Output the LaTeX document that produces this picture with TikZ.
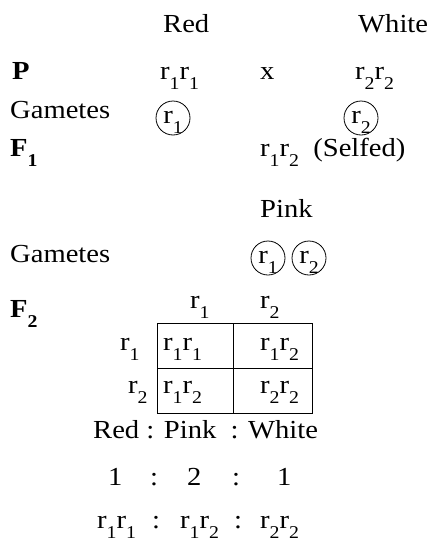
\documentclass[tikz,border=0pt]{standalone}
\usepackage{fontspec}
\setmainfont[FakeStretch=1.1]{Liberation Serif}
\newcommand{\gsub}[1]{\raisebox{-0.4em}{\fontsize{18}{18}\selectfont #1}}
\newcommand{\al}[1]{r\gsub{#1}}

\begin{document}
\begin{tikzpicture}[x=1pt, y=-1pt,
				every node/.style={inner sep=0pt, anchor=base west, font=\fontsize{26}{30}\selectfont},
				gamete/.style={circle, draw, line width=0.8pt, anchor=center, minimum size=34pt, text height=10pt, text depth=0pt},
				cell/.style={draw, line width=0.8pt}
				]
				\useasboundingbox (0,0) rectangle (427,541);
				% parents
				\node (red) at (163,32) {Red};
				\node (white) at (358,32) {White};
				\node (p) at (12,79) {\textbf{P}};
				\node (pa) at (160,79) {\al1\al1};
				\node (cross) at (260,79) {x};
				\node (pb) at (355,79) {\al2\al2};
				\node (gam1) at (10,118) {Gametes};
				\node[gamete] (ga) at (173,118) {\al1};
				\node[gamete] (gb) at (361,118) {\al2};
				% F1
				\node (f1) at (10,156) {\textbf{F\gsub{1}}};
				\node (hyb) at (260,156) {\al1\al2\ \ (Selfed)};
				\node (pink) at (260,217) {Pink};
				\node (gam2) at (10,262) {Gametes};
				\node[gamete] (gc) at (268,258) {\al1};
				\node[gamete] (gd) at (309,258) {\al2};
				% F2 checkerboard
				\node (f2) at (10,317) {\textbf{F\gsub{2}}};
				\node (col1) at (190,308) {\al1};
				\node (col2) at (260,308) {\al2};
				\coordinate (nw) at (157,323);
				\coordinate (se) at (312,413);
				\draw[cell] (nw) rectangle (se);
				\draw[cell] (nw -| 233,0) -- (se -| 233,0);
				\draw[cell] (nw |- 0,368) -- (se |- 0,368);
				\node (row1) at (120,350) {\al1};
				\node (c11) at (163,350) {\al1\al1};
				\node (c12) at (260,350) {\al1\al2};
				\node (row2) at (128,393) {\al2};
				\node (c21) at (163,393) {\al1\al2};
				\node (c22) at (260,393) {\al2\al2};
				% ratios
				\node (pheno) at (93,438) {Red : Pink\ \ : White};
				\node (n1) at (108,485) {1};
				\node (s1) at (150,485) {:};
				\node (n2) at (187,485) {2};
				\node (s2) at (232,485) {:};
				\node (n3) at (277,485) {1};
				\node (g1) at (97,528) {\al1\al1};
				\node (s3) at (152,528) {:};
				\node (g2) at (180,528) {\al1\al2};
				\node (s4) at (234,528) {:};
				\node (g3) at (260,528) {\al2\al2};
			\end{tikzpicture}
\end{document}
